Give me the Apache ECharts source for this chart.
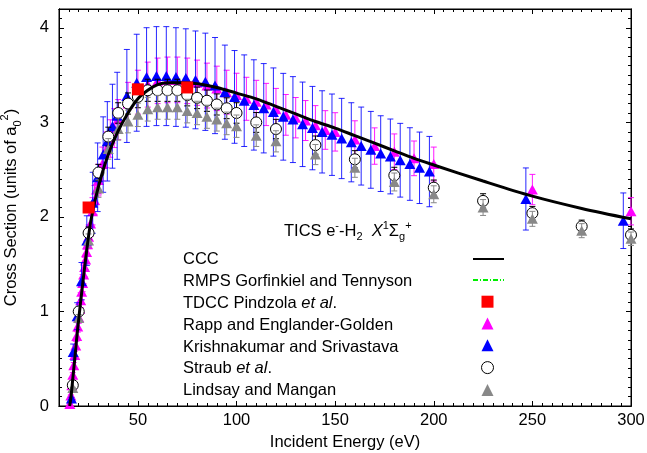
<!DOCTYPE html>
<html><head><meta charset="utf-8">
<script src="https://cdn.jsdelivr.net/npm/echarts@6/dist/echarts.min.js"></script>
<style>html,body{margin:0;padding:0;background:#fff}#c{width:647px;height:453px}</style>
</head><body><div id="c"></div>
<script>
// ---- tick labels ----
const xMajor = [50, 100, 150, 200, 250, 300];
const yMajor = [0, 1, 2, 3, 4];

// ---- CCC (black line) ----
const cccE = [15.4,16,17,18,19,20,21,22,23,24,25,26,27,28,30,32,35,40,45,50,55,60,65,70,80,90,100,110,120,130,140,150,160,170,180,190,200,225,250,275,300];
const cccV = [0,0.08,0.29,0.5,0.72,0.92,1.11,1.29,1.47,1.64,1.80,1.94,2.05,2.15,2.32,2.47,2.66,2.91,3.10,3.25,3.34,3.40,3.42,3.42,3.41,3.37,3.31,3.25,3.17,3.09,3.01,2.94,2.86,2.78,2.70,2.62,2.55,2.38,2.22,2.09,1.98];

// ---- RMPS (green dash-dot) ----
const rmpsE = [15.4,16,17,18,19,20,21,22,23,24,25,26,27];
const rmpsV = [0,0.09,0.3,0.51,0.72,0.92,1.11,1.29,1.47,1.63,1.79,1.93,2.05];

// ---- TDCC (red squares) ----
const tdccE = [25, 50, 75];
const tdccV = [2.10, 3.35, 3.37];

// ---- Rapp and Englander-Golden (magenta) ----
const rappE = [15.5,16,16.5,17,17.5,18,18.5,19,19.5,20,20.5,21,21.5,22,22.5,23,23.5,24,24.5,25,26,27,28,29,30,32,34,36,38,40,45,50,55,60,65,70,75,80,85,90,95,100,105,110,115,120,125,130,135,140,145,150,160,170,180,190,200,250,300];
const rappV = [0.02,0.11,0.22,0.33,0.43,0.54,0.64,0.74,0.84,0.94,1.03,1.12,1.21,1.30,1.39,1.47,1.55,1.63,1.71,1.79,1.93,2.06,2.18,2.29,2.39,2.56,2.71,2.83,2.94,3.03,3.20,3.32,3.40,3.44,3.45,3.45,3.44,3.42,3.39,3.36,3.32,3.29,3.25,3.22,3.19,3.14,3.08,3.05,3.02,2.97,2.92,2.90,2.82,2.75,2.69,2.62,2.56,2.29,2.06];
const rappRelErr = 0.07;

// ---- Krishnakumar and Srivastava (blue) ----
const ksE = [16.3,17.2,19.2,21.4,24.1,27.1,29.6,32.4,34.5,37.1,39.5,44.4,49.4,54.4,59.4,64.4,69.3,74.3,79.2,84.2,89.1,94.1,99.0,103.9,108.8,113.8,118.7,123.7,128.6,133.5,138.5,143.4,148.4,153.3,158.2,163.2,168.1,173.1,178.0,183.0,187.9,192.8,197.8,246.7,296.1];
const ksV = [0.08,0.57,0.95,1.32,1.75,2.15,2.42,2.66,2.80,2.96,3.07,3.28,3.42,3.48,3.49,3.49,3.48,3.47,3.45,3.43,3.39,3.32,3.27,3.23,3.185,3.15,3.11,3.06,3.03,2.98,2.94,2.90,2.87,2.83,2.79,2.75,2.71,2.67,2.64,2.60,2.56,2.52,2.48,2.19,1.96];
const ksRelErr = 0.15;

// ---- Straub et al. (open circles) ----
const strE = [17,20,25,30,35,40,45,50,55,60,65,70,75,80,85,90,95,100,110,120,140,160,180,200,225,250,275,300];
const strV = [0.22,1.00,1.83,2.47,2.85,3.10,3.20,3.27,3.34,3.34,3.34,3.34,3.29,3.26,3.23,3.19,3.15,3.10,3.00,2.93,2.76,2.61,2.44,2.31,2.17,2.04,1.90,1.81];
const strRelErr = 0.035;

// ---- Lindsay and Mangan (grey) ----
const lmE = [17,20,25,30,35,40,45,50,55,60,65,70,75,80,85,90,95,100,110,120,140,160,180,200,225,250,275,300];
const lmV = [0.19,0.93,1.75,2.30,2.72,2.93,3.01,3.08,3.14,3.16,3.16,3.16,3.12,3.10,3.06,3.03,2.99,2.96,2.86,2.80,2.66,2.52,2.37,2.24,2.10,1.98,1.855,1.77];
const lmRelErr = 0.04;

const names = ['CCC','RMPS Gorfinkiel and Tennyson','TDCC Pindzola et al.','Rapp and Englander-Golden','Krishnakumar and Srivastava','Straub et al.','Lindsay and Mangan'];

const FONT = '"Liberation Sans", Arial, Helvetica, sans-serif';
const FS = 16.5;
const XMIN = 10, XMAX = 300, YMIN = 0, YMAX = 4.2;

const xMinor = []; for (let v = 15; v < 300; v += 5) if (v % 50 !== 0) xMinor.push(v);
const yMinor = []; for (let k = 1; k <= 41; k++) if (k % 10 !== 0) yMinor.push(+(k / 10).toFixed(1));

const pairs = (E, V) => E.map((e, i) => [e, V[i]]);
const errs = (E, V, r) => E.map((e, i) => [e, V[i] * (1 - r), V[i] * (1 + r)]);

function errRender(color, cap, opacity) {
  return function (params, api) {
    const x = api.value(0), lo = api.value(1), hi = api.value(2);
    const a = api.coord([x, lo]), b = api.coord([x, hi]);
    const st = { stroke: color, lineWidth: 1, opacity: opacity };
    return { type: 'group', children: [
      { type: 'line', shape: { x1: a[0], y1: a[1], x2: b[0], y2: b[1] }, style: st },
      { type: 'line', shape: { x1: a[0] - cap, y1: a[1], x2: a[0] + cap, y2: a[1] }, style: st },
      { type: 'line', shape: { x1: b[0] - cap, y1: b[1], x2: b[0] + cap, y2: b[1] }, style: st }
    ]};
  };
}

const txt = { color: '#000', fontSize: FS, fontFamily: FONT };
function xAx(pos, ticks, len, withLabels) {
  const o = { type: 'value', min: XMIN, max: XMAX, position: pos, splitLine: { show: false },
    axisLine: { show: true, onZero: false, lineStyle: { color: '#000', width: 1 } },
    axisTick: { show: true, inside: true, length: len, customValues: ticks, lineStyle: { color: '#000', width: 1 } },
    axisLabel: { show: false } };
  if (withLabels) {
    o.axisLabel = Object.assign({ show: true, customValues: xMajor, margin: 6 }, txt);
    o.name = 'Incident Energy (eV)'; o.nameLocation = 'middle'; o.nameGap = 23;
    o.nameTextStyle = Object.assign({}, txt);
  }
  return o;
}
function yAx(pos, ticks, len, withLabels) {
  const o = { type: 'value', min: YMIN, max: YMAX, position: pos, splitLine: { show: false },
    axisLine: { show: true, onZero: false, lineStyle: { color: '#000', width: 1 } },
    axisTick: { show: true, inside: true, length: len, customValues: ticks, lineStyle: { color: '#000', width: 1 } },
    axisLabel: { show: false } };
  if (withLabels) {
    o.axisLabel = Object.assign({ show: true, customValues: yMajor, margin: 10 }, txt);
    o.name = 'Cross Section (units of a{sub|0}{sup|2})'; o.nameLocation = 'middle'; o.nameGap = 36;
    o.nameTextStyle = Object.assign({ lineHeight: 24, rich: {
      sub: { fontSize: 11, fontFamily: FONT, color: '#000', verticalAlign: 'bottom', lineHeight: 12 },
      sup: { fontSize: 11, fontFamily: FONT, color: '#000', verticalAlign: 'top', lineHeight: 12 } } }, txt);
  }
  return o;
}

const legendFmt = n => n.replace('et al', '{i|et al}');
const legendRich = { i: { fontStyle: 'italic', fontSize: FS, fontFamily: FONT, color: '#000', lineHeight: 21.8 } };

const chart = echarts.init(document.getElementById('c'), null, { renderer: 'canvas' });
chart.setOption({
  animation: false,
  backgroundColor: '#fff',
  grid: { left: 59, right: 16, top: 9, bottom: 47, containLabel: false, outerBoundsMode: 'none',
          show: true, borderColor: '#000', borderWidth: 1, backgroundColor: 'transparent' },
  xAxis: [ xAx('bottom', xMajor, 5, true), xAx('bottom', xMinor, 3, false), xAx('top', xMajor, 5, false), xAx('top', xMinor, 3, false) ],
  yAxis: [ yAx('left', yMajor, 5, true), yAx('left', yMinor, 3, false), yAx('right', yMajor, 5, false), yAx('right', yMinor, 3, false) ],
  legend: [
    // text column
    { orient: 'vertical', left: 173, top: 244, itemGap: 0, itemWidth: 0, itemHeight: 12, icon: 'none',
      selectedMode: false, data: names, formatter: legendFmt,
      textStyle: Object.assign({ lineHeight: 21.8, rich: legendRich }, txt) },
    // line samples
    { orient: 'vertical', left: 467, top: 248, itemGap: 10.3, itemWidth: 31, itemHeight: 12,
      selectedMode: false, formatter: () => '',
      data: [ { name: names[0], itemStyle: { opacity: 0 } }, { name: names[1], itemStyle: { opacity: 0 } } ],
      textStyle: Object.assign({ lineHeight: 0 }, txt) },
    // point samples
    { orient: 'vertical', left: 476, top: 290.7, itemGap: 9.8, itemWidth: 12, itemHeight: 12,
      selectedMode: false, formatter: () => '',
      data: [ names[2], names[3], names[4], { name: names[5], itemStyle: { borderWidth: 1 } }, names[6] ],
      textStyle: Object.assign({ lineHeight: 0 }, txt) }
  ],
  graphic: [{
    type: 'text', left: 284, top: 220, z: 100,
    style: { text: '{n|TICS e}{sup|-}{n|-H}{sub|2}{n|  }{it|X}{sup|1}{n|Σ}{sub|g}{sup|+}',
      rich: {
        n: { fontSize: FS, fontFamily: FONT, fill: '#000', lineHeight: 22 },
        it: { fontSize: FS, fontFamily: FONT, fontStyle: 'italic', fill: '#000', lineHeight: 22 },
        sup: { fontSize: 11, fontFamily: FONT, fill: '#000', verticalAlign: 'top', lineHeight: 11 },
        sub: { fontSize: 11, fontFamily: FONT, fill: '#000', verticalAlign: 'bottom', lineHeight: 11 }
      } }
  }],
  series: [
    { type: 'custom', silent: true, z: 1, renderItem: errRender('#ff00ff', 3, 0.9), encode: { x: 0, y: [1, 2] }, data: errs(rappE, rappV, rappRelErr) },
    { name: names[3], type: 'scatter', z: 2, symbol: 'triangle', symbolSize: [11, 10], itemStyle: { color: '#ff00ff', opacity: 1 }, data: pairs(rappE, rappV) },
    { type: 'custom', silent: true, z: 3, renderItem: errRender('#0000ff', 3, 0.85), encode: { x: 0, y: [1, 2] }, data: errs(ksE, ksV, ksRelErr) },
    { name: names[4], type: 'scatter', z: 4, symbol: 'triangle', symbolSize: [11, 10], itemStyle: { color: '#0000ff', opacity: 1 }, data: pairs(ksE, ksV) },
    { type: 'custom', silent: true, z: 5, renderItem: errRender('#000000', 3, 1), encode: { x: 0, y: [1, 2] }, data: errs(strE, strV, strRelErr) },
    { name: names[5], type: 'scatter', z: 6, symbol: 'circle', symbolSize: 11, itemStyle: { color: '#ffffff', borderColor: '#000', borderWidth: 1, opacity: 1 }, data: pairs(strE, strV) },
    { type: 'custom', silent: true, z: 7, renderItem: errRender('#888888', 3, 1), encode: { x: 0, y: [1, 2] }, data: errs(lmE, lmV, lmRelErr) },
    { name: names[6], type: 'scatter', z: 8, symbol: 'triangle', symbolSize: [11, 10], itemStyle: { color: '#888888', opacity: 1 }, data: pairs(lmE, lmV) },
    { name: names[1], type: 'line', z: 9, symbol: 'none', smooth: 0.3, lineStyle: { color: '#00ee00', width: 1.5, type: [5, 2, 1, 2] }, itemStyle: { color: '#00ee00' }, data: pairs(rmpsE, rmpsV) },
    { name: names[0], type: 'line', z: 10, symbol: 'none', smooth: 0.3, lineStyle: { color: '#000', width: 3 }, itemStyle: { color: '#000' }, data: pairs(cccE, cccV) },
    { name: names[2], type: 'scatter', z: 11, symbol: 'rect', symbolSize: 12, itemStyle: { color: '#ff0000', opacity: 1 }, data: pairs(tdccE, tdccV) }
  ]
});
</script></body></html>
